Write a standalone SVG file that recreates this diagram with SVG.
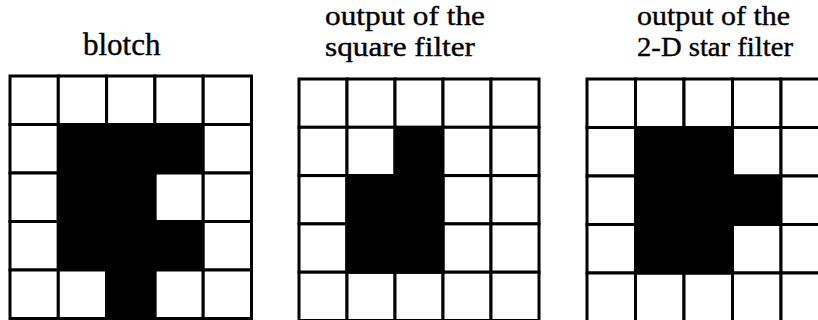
<svg xmlns="http://www.w3.org/2000/svg" width="818" height="320" viewBox="0 0 818 320">
<style>
.t{font-family:"Liberation Serif","Times New Roman",serif;font-size:31px;fill:#000;stroke:#000;stroke-width:0.4}
.s{font-size:28px}
.w{fill:#fff;stroke:#000;stroke-width:3}
.b{fill:#000;stroke:#000;stroke-width:3}
</style>
<rect width="818" height="320" fill="#fff"/>
<g id="label-blotch"><text class="t" x="83" y="55">blotch</text></g>
<g id="label-square"><text class="t s" x="325" y="25" textLength="160" lengthAdjust="spacingAndGlyphs">output of the</text><text class="t s" x="325" y="56" textLength="150" lengthAdjust="spacingAndGlyphs">square filter</text></g>
<g id="label-star"><text class="t s" x="637" y="25" textLength="153" lengthAdjust="spacingAndGlyphs">output of the</text><text class="t s" x="637" y="56" textLength="156" lengthAdjust="spacingAndGlyphs">2-D star filter</text></g>
<g id="grid-blotch">
<rect class="w" x="10" y="76" width="48.3" height="48.5"/><rect class="w" x="58.3" y="76" width="48.3" height="48.5"/><rect class="w" x="106.6" y="76" width="48.3" height="48.5"/><rect class="w" x="154.9" y="76" width="48.3" height="48.5"/><rect class="w" x="203.2" y="76" width="48.3" height="48.5"/>
<rect class="w" x="10" y="124.5" width="48.3" height="48.5"/><rect class="b" x="58.3" y="124.5" width="48.3" height="48.5"/><rect class="b" x="106.6" y="124.5" width="48.3" height="48.5"/><rect class="b" x="154.9" y="124.5" width="48.3" height="48.5"/><rect class="w" x="203.2" y="124.5" width="48.3" height="48.5"/>
<rect class="w" x="10" y="173" width="48.3" height="48.5"/><rect class="b" x="58.3" y="173" width="48.3" height="48.5"/><rect class="b" x="106.6" y="173" width="48.3" height="48.5"/><rect class="w" x="154.9" y="173" width="48.3" height="48.5"/><rect class="w" x="203.2" y="173" width="48.3" height="48.5"/>
<rect class="w" x="10" y="221.5" width="48.3" height="48.5"/><rect class="b" x="58.3" y="221.5" width="48.3" height="48.5"/><rect class="b" x="106.6" y="221.5" width="48.3" height="48.5"/><rect class="b" x="154.9" y="221.5" width="48.3" height="48.5"/><rect class="w" x="203.2" y="221.5" width="48.3" height="48.5"/>
<rect class="w" x="10" y="270" width="48.3" height="48.5"/><rect class="w" x="58.3" y="270" width="48.3" height="48.5"/><rect class="b" x="106.6" y="270" width="48.3" height="48.5"/><rect class="w" x="154.9" y="270" width="48.3" height="48.5"/><rect class="w" x="203.2" y="270" width="48.3" height="48.5"/>
<rect class="b" x="58.3" y="173" width="96.6" height="48.5"/>
<rect class="b" x="106.6" y="221.5" width="48.3" height="97"/>
</g>
<g id="grid-square">
<rect class="w" x="299" y="79" width="48" height="48.3"/><rect class="w" x="347" y="79" width="48" height="48.3"/><rect class="w" x="395" y="79" width="48" height="48.3"/><rect class="w" x="443" y="79" width="48" height="48.3"/><rect class="w" x="491" y="79" width="48" height="48.3"/>
<rect class="w" x="299" y="127.3" width="48" height="48.3"/><rect class="w" x="347" y="127.3" width="48" height="48.3"/><rect class="b" x="395" y="127.3" width="48" height="48.3"/><rect class="w" x="443" y="127.3" width="48" height="48.3"/><rect class="w" x="491" y="127.3" width="48" height="48.3"/>
<rect class="w" x="299" y="175.6" width="48" height="48.3"/><rect class="b" x="347" y="175.6" width="48" height="48.3"/><rect class="b" x="395" y="175.6" width="48" height="48.3"/><rect class="w" x="443" y="175.6" width="48" height="48.3"/><rect class="w" x="491" y="175.6" width="48" height="48.3"/>
<rect class="w" x="299" y="223.9" width="48" height="48.3"/><rect class="b" x="347" y="223.9" width="48" height="48.3"/><rect class="b" x="395" y="223.9" width="48" height="48.3"/><rect class="w" x="443" y="223.9" width="48" height="48.3"/><rect class="w" x="491" y="223.9" width="48" height="48.3"/>
<rect class="w" x="299" y="272.2" width="48" height="48.3"/><rect class="w" x="347" y="272.2" width="48" height="48.3"/><rect class="w" x="395" y="272.2" width="48" height="48.3"/><rect class="w" x="443" y="272.2" width="48" height="48.3"/><rect class="w" x="491" y="272.2" width="48" height="48.3"/>
<rect class="b" x="347" y="175.6" width="96" height="96.6"/>
</g>
<g id="grid-star">
<rect class="w" x="587" y="79" width="48.5" height="48.5"/><rect class="w" x="635.5" y="79" width="48.5" height="48.5"/><rect class="w" x="684" y="79" width="48.5" height="48.5"/><rect class="w" x="732.5" y="79" width="48.5" height="48.5"/><rect class="w" x="781" y="79" width="48.5" height="48.5"/>
<rect class="w" x="587" y="127.5" width="48.5" height="48.5"/><rect class="b" x="635.5" y="127.5" width="48.5" height="48.5"/><rect class="b" x="684" y="127.5" width="48.5" height="48.5"/><rect class="w" x="732.5" y="127.5" width="48.5" height="48.5"/><rect class="w" x="781" y="127.5" width="48.5" height="48.5"/>
<rect class="w" x="587" y="176" width="48.5" height="48.5"/><rect class="b" x="635.5" y="176" width="48.5" height="48.5"/><rect class="b" x="684" y="176" width="48.5" height="48.5"/><rect class="b" x="732.5" y="176" width="48.5" height="48.5"/><rect class="w" x="781" y="176" width="48.5" height="48.5"/>
<rect class="w" x="587" y="224.5" width="48.5" height="48.5"/><rect class="b" x="635.5" y="224.5" width="48.5" height="48.5"/><rect class="b" x="684" y="224.5" width="48.5" height="48.5"/><rect class="w" x="732.5" y="224.5" width="48.5" height="48.5"/><rect class="w" x="781" y="224.5" width="48.5" height="48.5"/>
<rect class="w" x="587" y="273" width="48.5" height="48.5"/><rect class="w" x="635.5" y="273" width="48.5" height="48.5"/><rect class="w" x="684" y="273" width="48.5" height="48.5"/><rect class="w" x="732.5" y="273" width="48.5" height="48.5"/><rect class="w" x="781" y="273" width="48.5" height="48.5"/>
<rect class="b" x="635.5" y="127.5" width="97" height="145.5"/>
</g>
</svg>
